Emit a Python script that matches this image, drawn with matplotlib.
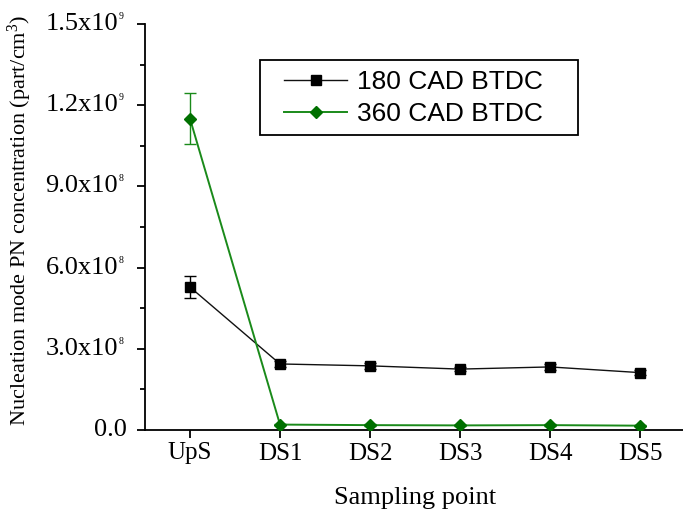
import numpy as np
import matplotlib
matplotlib.use("Agg")
import matplotlib.pyplot as plt
from matplotlib.patches import Rectangle
from matplotlib.ticker import FixedLocator, MultipleLocator, NullFormatter

# data
samplingPoints = ["UpS", "DS1", "DS2", "DS3", "DS4", "DS5"]
pn180 = [5.28e8, 2.44e8, 2.37e8, 2.25e8, 2.33e8, 2.12e8]
err180 = [4.0e7, 1.2e7, 1.0e7, 0.8e7, 1.0e7, 0.8e7]
pn360 = [1.15e9, 2.0e7, 1.8e7, 1.7e7, 1.8e7, 1.6e7]
err360 = [9.5e7, 0.3e7, 0.3e7, 0.3e7, 0.3e7, 0.3e7]
yTicks = [0.0, 3.0e8, 6.0e8, 9.0e8, 1.2e9, 1.5e9]
yTickBases = ["0.0", "3.0x10", "6.0x10", "9.0x10", "1.2x10", "1.5x10"]
yTickExps = ["", "8", "8", "8", "9", "9"]

plt.rcParams["mathtext.fontset"] = "custom"
plt.rcParams["mathtext.rm"] = "Liberation Serif"
plt.rcParams["mathtext.it"] = "Liberation Serif"
serif = "Liberation Serif"
sans = "Liberation Sans"

W, H = 683, 516
fig = plt.figure(figsize=(W / 100, H / 100), dpi=100)
ax = fig.add_axes([145 / W, (H - 430) / H, (685 - 145) / W, (430 - 24) / H])

x = np.arange(len(samplingPoints))
green = "#1a8a1a"
dkgreen = "#007000"
ax.errorbar(x, pn180, yerr=err180, fmt="none", ecolor="black", capsize=4,
            elinewidth=1.0, capthick=1.0, zorder=2)
ax.errorbar(x, pn360, yerr=err360, fmt="none", ecolor=green, capsize=4,
            elinewidth=1.0, capthick=1.0, zorder=2)
ax.plot(x, pn180, color="#111111", marker="s", markersize=7, linewidth=1.0,
        markerfacecolor="black", markeredgecolor="black",
        label="180 CAD BTDC", zorder=3)
ax.plot(x, pn360, color=green, marker="D", markersize=6.5,
        markerfacecolor=dkgreen, markeredgecolor=dkgreen,
        linewidth=1.4, label="360 CAD BTDC", zorder=3)

ax.set_xlim(-0.5, 5.5)
ax.set_ylim(0, 1.5e9)
ax.set_xticks(x)
ax.set_xticklabels(samplingPoints, fontfamily=serif, fontsize=18)
ax.yaxis.set_major_locator(FixedLocator(yTicks))
ax.yaxis.set_major_formatter(NullFormatter())
ax.yaxis.set_minor_locator(MultipleLocator(1.5e8))

# y tick labels with small raised exponents, as in the original
ytrans = ax.get_yaxis_transform()
for val, base, ex in zip(yTicks, yTickBases, yTickExps):
    if ex:
        ax.annotate(base, xy=(0, val), xycoords=ytrans, xytext=(-27, 0),
                    textcoords="offset pixels", ha="right", va="center",
                    fontfamily=serif, fontsize=19, annotation_clip=False)
        ax.annotate(ex, xy=(0, val), xycoords=ytrans, xytext=(-26, 3),
                    textcoords="offset pixels", ha="left", va="bottom",
                    fontfamily=serif, fontsize=7, annotation_clip=False)
    else:
        ax.annotate(base, xy=(0, val), xycoords=ytrans, xytext=(-18, 0),
                    textcoords="offset pixels", ha="right", va="center",
                    fontfamily=serif, fontsize=19, annotation_clip=False)

for side in ("top", "right"):
    ax.spines[side].set_visible(False)
for side in ("left", "bottom"):
    ax.spines[side].set_linewidth(1.3)
ax.tick_params(axis="both", which="major", direction="out", length=6, width=1.3)
ax.tick_params(axis="x", which="major", pad=3)
ax.tick_params(axis="y", which="minor", direction="out", length=3.5, width=1.3)
ax.tick_params(axis="x", which="minor", length=0)

ax.set_xlabel("Sampling point", fontfamily=serif, fontsize=19, labelpad=16)
ax.set_ylabel(r"Nucleation mode PN concentration (part/cm$^3$)",
              fontfamily=serif, fontsize=16)
ax.yaxis.set_label_coords((34 - 145) / 540, (430 - 220) / 406)

# legend box drawn by hand so padding matches the original
ax.add_patch(Rectangle((260 / W, (H - 135) / H), (578 - 260) / W, 75 / H,
                       transform=fig.transFigure, facecolor="white",
                       edgecolor="black", linewidth=1.3, zorder=4, clip_on=False))
leg = ax.legend(loc="upper left", bbox_to_anchor=((284 - 145) / 540, (430 - 70) / 406),
                prop={"family": sans, "size": 19}, frameon=False,
                handlelength=2.4, borderpad=0, labelspacing=0.3,
                handletextpad=0.35, borderaxespad=0)
leg.set_zorder(5)

fig.savefig("out.png", dpi=100)
